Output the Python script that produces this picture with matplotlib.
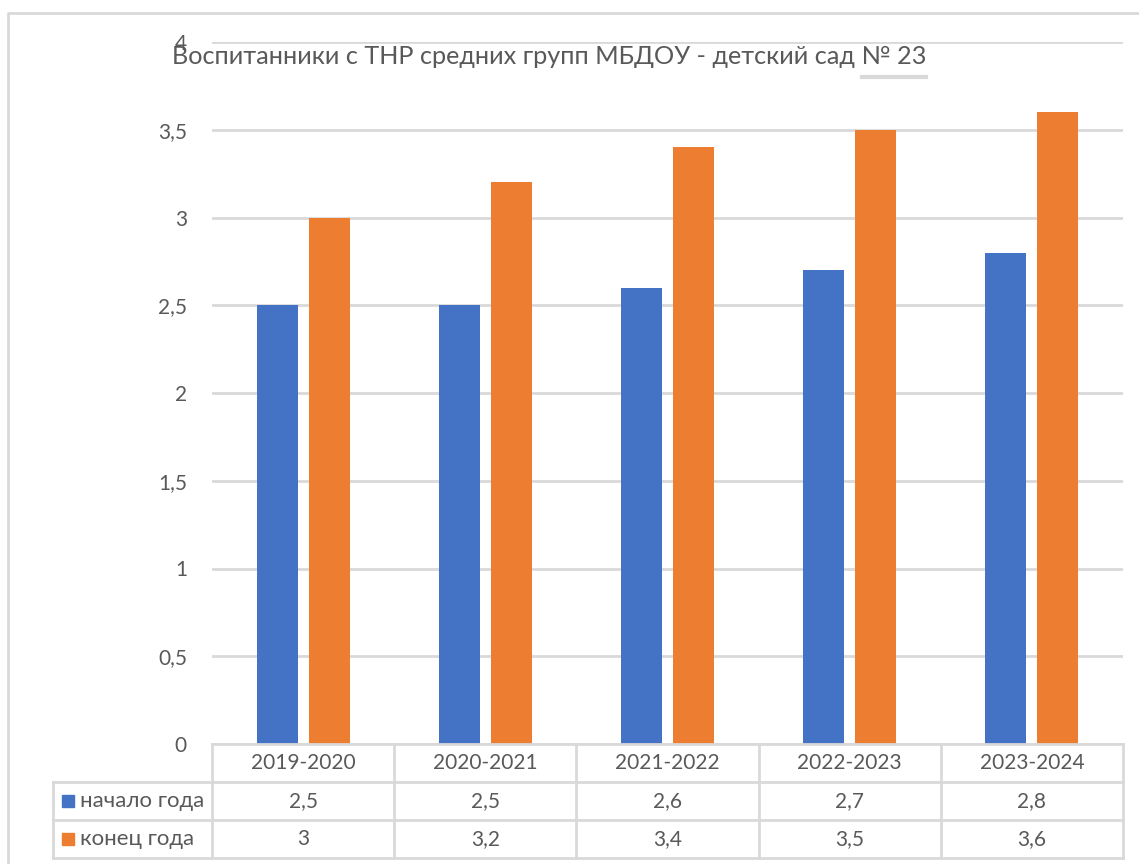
import numpy as np
import matplotlib.pyplot as plt
from matplotlib.lines import Line2D
from matplotlib.patches import Rectangle
from matplotlib import transforms

# data
years = ['2019-2020', '2020-2021', '2021-2022', '2022-2023', '2023-2024']
start_year = [2.5, 2.5, 2.6, 2.7, 2.8]
end_year = [3.0, 3.2, 3.4, 3.5, 3.6]
series_names = ['начало года', 'конец года']
y_ticks = [0, 0.5, 1, 1.5, 2, 2.5, 3, 3.5, 4]
title = 'Воспитанники с ТНР средних групп МБДОУ - детский сад № 23'

blue = '#4472C4'
orange = '#ED7D31'
grid_c = '#D9D9D9'
text_c = '#595959'


def ru(v):
    return ('%g' % v).replace('.', ',')


W, H = 1139, 864
fig = plt.figure(figsize=(W / 100, H / 100), dpi=100)


def fx(px):
    return px / W


def fy(py):
    return 1 - py / H


ax = fig.add_axes([fx(212), fy(744), (1123 - 212) / W, (744 - 42) / H])
x = np.arange(len(years))
ax.bar(x - 0.143, start_year, 0.225, color=blue, zorder=3)
ax.bar(x + 0.143, end_year, 0.225, color=orange, zorder=3)
ax.set_xlim(-0.5, len(years) - 0.5)
ax.set_ylim(0, 4)
ax.set_yticks(y_ticks)
ax.set_yticklabels([ru(v) for v in y_ticks], family='Lato', fontsize=15, color=text_c)
ax.set_xticks([])
ax.tick_params(axis='y', length=0, pad=18)
ax.yaxis.grid(True, color=grid_c, lw=2)
ax.set_axisbelow(True)
for s in ax.spines.values():
    s.set_visible(False)

# outer frame of the chart
fig.add_artist(Line2D([fx(8), fx(8), fx(1139)], [fy(864), fy(13), fy(13)],
                      transform=fig.transFigure, color=grid_c, lw=2))

# data table below the plot
tr = transforms.blended_transform_factory(ax.transData, fig.transFigure)
left_x = -0.5
right_x = len(years) - 0.5
leg_x = left_x - (212 - 53) / ((1123 - 212) / len(years))
rows = [744, 782, 820, 858]


def hline(x0, x1, py):
    fig.add_artist(Line2D([x0, x1], [fy(py), fy(py)], transform=tr, color=grid_c, lw=2))


def vline(xv, py0, py1):
    fig.add_artist(Line2D([xv, xv], [fy(py0), fy(py1)], transform=tr, color=grid_c, lw=2))


hline(left_x, right_x, rows[0])
hline(leg_x, right_x, rows[1])
hline(leg_x, right_x, rows[2])
hline(leg_x, right_x, rows[3])
vline(leg_x, rows[1], rows[3])
for i in range(len(years) + 1):
    vline(left_x + i, rows[0], rows[3])

for i, yr in enumerate(years):
    fig.text(i, fy(763), yr, transform=tr, ha='center', va='center',
             family='Lato', fontsize=15, color=text_c)
    fig.text(i, fy(801), ru(start_year[i]), transform=tr, ha='center', va='center',
             family='Lato', fontsize=15, color=text_c)
    fig.text(i, fy(839), ru(end_year[i]), transform=tr, ha='center', va='center',
             family='Lato', fontsize=15, color=text_c)

for name, col, py in zip(series_names, [blue, orange], [801, 839]):
    fig.add_artist(Rectangle((fx(62), fy(py + 6)), 12 / W, 12 / H,
                             transform=fig.transFigure, color=col))
    fig.text(fx(80), fy(py), name, ha='left', va='center',
             family='Lato', fontsize=16, color=text_c)

# title
fig.text(fx(549), fy(64), title, ha='center', va='baseline',
         family='Lato', fontsize=18.2, color=text_c)
fig.add_artist(Line2D([fx(862), fx(926)], [fy(77), fy(77)],
                      transform=fig.transFigure, color=grid_c, lw=3))

fig.savefig('out.png', dpi=100, facecolor='white')
